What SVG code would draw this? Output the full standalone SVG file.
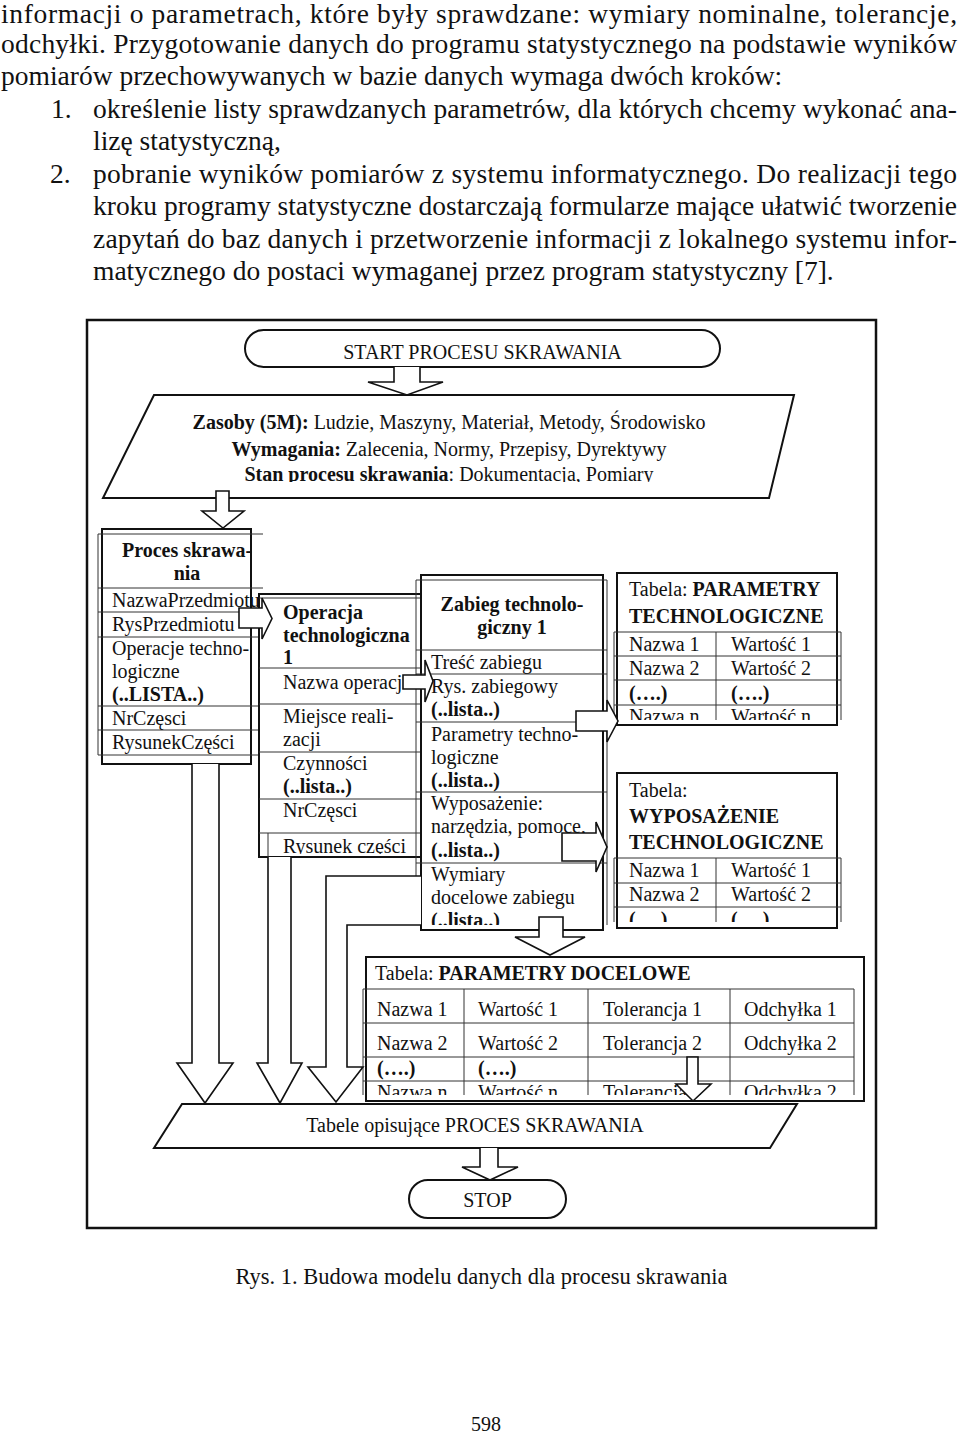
<svg xmlns="http://www.w3.org/2000/svg" width="960" height="1435" viewBox="0 0 960 1435">
<style>
text{font-family:"Liberation Serif","Times New Roman",serif;fill:#111}
.p{font-size:27.5px}
.d{font-size:20px}
.c{font-size:22.5px}
.b{font-weight:bold}
.m{text-anchor:middle}
.fr{fill:#fff;stroke:#111;stroke-width:2}
.tl{stroke:#333;stroke-width:1;fill:none}
.ar{fill:#fff;stroke:#111;stroke-width:1.6;stroke-linejoin:miter}
</style>
<defs>
<clipPath id="cPara"><rect x="100" y="400" width="700" height="82"/></clipPath>
<clipPath id="cOp"><rect x="259" y="833" width="160" height="21"/></clipPath>
<clipPath id="cZab"><rect x="416" y="863" width="191" height="62"/></clipPath>
<clipPath id="cPT"><rect x="614" y="705" width="227" height="15"/></clipPath>
<clipPath id="cWT"><rect x="614" y="907" width="227" height="15"/></clipPath>
<clipPath id="cPD"><rect x="363" y="1081" width="491" height="14"/></clipPath>
</defs>

<g id="paragraph" class="p">
<text x="1" y="23" textLength="956" lengthAdjust="spacing">informacji o parametrach, które były sprawdzane: wymiary nominalne, tolerancje,</text>
<text x="1" y="53" textLength="956" lengthAdjust="spacing">odchyłki. Przygotowanie danych do programu statystycznego na podstawie wyników</text>
<text x="1" y="85">pomiarów przechowywanych w bazie danych wymaga dwóch kroków:</text>
<text x="51" y="117.5">1.</text>
<text x="93" y="117.5" textLength="864" lengthAdjust="spacing">określenie listy sprawdzanych parametrów, dla których chcemy wykonać ana-</text>
<text x="93" y="150">lizę statystyczną,</text>
<text x="50" y="182.5">2.</text>
<text x="93" y="182.5" textLength="864" lengthAdjust="spacing">pobranie wyników pomiarów z systemu informatycznego. Do realizacji tego</text>
<text x="93" y="215" textLength="864" lengthAdjust="spacing">kroku programy statystyczne dostarczają formularze mające ułatwić tworzenie</text>
<text x="93" y="247.5" textLength="864" lengthAdjust="spacing">zapytań do baz danych i przetworzenie informacji z lokalnego systemu infor-</text>
<text x="93" y="280">matycznego do postaci wymaganej przez program statystyczny [7].</text>
</g>

<rect id="frame" x="87" y="320" width="789" height="908" fill="none" stroke="#111" stroke-width="2.5"/>

<g id="start">
<rect class="fr" x="245" y="330" width="475" height="37" rx="18.5"/>
<text class="d m" x="482.5" y="358.5">START PROCESU SKRAWANIA</text>
</g>

<g id="zasoby">
<path class="fr" d="M154 395H794L769 498H103Z"/>
<g clip-path="url(#cPara)">
<text class="d m" x="449" y="429"><tspan class="b">Zasoby (5M):</tspan> Ludzie, Maszyny, Materiał, Metody, Środowisko</text>
<text class="d m" x="449" y="456"><tspan class="b">Wymagania:</tspan> Zalecenia, Normy, Przepisy, Dyrektywy</text>
<text class="d m" x="449" y="481"><tspan class="b">Stan procesu skrawania</tspan>: Dokumentacja, Pomiary</text>
</g>
</g>

<g id="proces">
<rect class="fr" x="102" y="529" width="149" height="235"/>
<path class="tl" d="M98 534H263M98 588H263M98 612H263M98 637H263M98 706H263M98 730H263M98 755H263M98 534V755"/>
<text class="d b m" x="187" y="557">Proces skrawa-</text>
<text class="d b m" x="187" y="580">nia</text>
<text class="d" x="112" y="607">NazwaPrzedmiotu</text>
<text class="d" x="112" y="631">RysPrzedmiotu</text>
<text class="d" x="112" y="655">Operacje techno-</text>
<text class="d" x="112" y="678">logiczne</text>
<text class="d b" x="112" y="701">(..LISTA..)</text>
<text class="d" x="112" y="725">NrCzęsci</text>
<text class="d" x="112" y="749">RysunekCzęści</text>
</g>

<g id="operacja">
<rect class="fr" x="259" y="594" width="166" height="263"/>
<path class="tl" d="M259 598H421M259 668H421M259 704H421M259 752H421M259 799H421M259 833H421M268 833V857"/>
<text class="d b" x="283" y="619">Operacja</text>
<text class="d b" x="283" y="642">technologiczna</text>
<text class="d b" x="283" y="664">1</text>
<text class="d" x="283" y="689">Nazwa operacji</text>
<text class="d" x="283" y="723">Miejsce reali-</text>
<text class="d" x="283" y="746">zacji</text>
<text class="d" x="283" y="770">Czynności</text>
<text class="d b" x="283" y="793">(..lista..)</text>
<text class="d" x="283" y="817">NrCzęsci</text>
<text class="d" x="283" y="853" clip-path="url(#cOp)">Rysunek części</text>
</g>

<g id="zabieg">
<rect class="fr" x="421" y="575" width="182" height="355"/>
<path class="tl" d="M416 580H607M416 650H607M416 674H607M416 722H607M416 792H607M416 863H607M416 580V925M607 580V925"/>
<text class="d b m" x="512" y="611">Zabieg technolo-</text>
<text class="d b m" x="512" y="634">giczny 1</text>
<text class="d" x="431" y="669">Treść zabiegu</text>
<text class="d" x="431" y="693">Rys. zabiegowy</text>
<text class="d b" x="431" y="716">(..lista..)</text>
<text class="d" x="431" y="741">Parametry techno-</text>
<text class="d" x="431" y="764">logiczne</text>
<text class="d b" x="431" y="787">(..lista..)</text>
<text class="d" x="431" y="810">Wyposażenie:</text>
<text class="d" x="431" y="833">narzędzia, pomoce,</text>
<text class="d b" x="431" y="857">(..lista..)</text>
<text class="d" x="431" y="881">Wymiary</text>
<text class="d" x="431" y="904">docelowe zabiegu</text>
<text class="d b" x="431" y="927" clip-path="url(#cZab)">(..lista..)</text>
</g>

<g id="parametry-technologiczne">
<rect class="fr" x="617" y="573" width="220" height="152"/>
<path class="tl" d="M614 632H841M614 656H841M614 680H841M614 705H841M614 632V720M841 632V720M716 632V720"/>
<text class="d" x="629" y="596">Tabela: <tspan class="b">PARAMETRY</tspan></text>
<text class="d b" x="629" y="623">TECHNOLOGICZNE</text>
<text class="d" x="629" y="651">Nazwa 1</text><text class="d" x="731" y="651">Wartość 1</text>
<text class="d" x="629" y="675">Nazwa 2</text><text class="d" x="731" y="675">Wartość 2</text>
<text class="d b" x="629" y="700">(….)</text><text class="d b" x="731" y="700">(….)</text>
<g clip-path="url(#cPT)"><text class="d" x="629" y="723">Nazwa n</text><text class="d" x="731" y="723">Wartość n</text></g>
</g>

<g id="wyposazenie-technologiczne">
<rect class="fr" x="617" y="773" width="220" height="155"/>
<path class="tl" d="M614 858H841M614 883H841M614 907H841M614 858V922M841 858V922M716 858V922"/>
<text class="d" x="629" y="797">Tabela:</text>
<text class="d b" x="629" y="823">WYPOSAŻENIE</text>
<text class="d b" x="629" y="849">TECHNOLOGICZNE</text>
<text class="d" x="629" y="877">Nazwa 1</text><text class="d" x="731" y="877">Wartość 1</text>
<text class="d" x="629" y="901">Nazwa 2</text><text class="d" x="731" y="901">Wartość 2</text>
<g clip-path="url(#cWT)"><text class="d b" x="629" y="926">(….)</text><text class="d b" x="731" y="926">(….)</text></g>
</g>

<g id="parametry-docelowe">
<rect class="fr" x="366" y="957" width="498" height="144"/>
<path class="tl" d="M363 989H854M363 1023H854M363 1057H854M363 1081H854M363 989V1095M854 989V1095M464 989V1095M588 989V1095M730 989V1095"/>
<text class="d" x="375" y="980">Tabela: <tspan class="b">PARAMETRY DOCELOWE</tspan></text>
<text class="d" x="377" y="1016">Nazwa 1</text><text class="d" x="478" y="1016">Wartość 1</text><text class="d" x="603" y="1016">Tolerancja 1</text><text class="d" x="744" y="1016">Odchyłka 1</text>
<text class="d" x="377" y="1050">Nazwa 2</text><text class="d" x="478" y="1050">Wartość 2</text><text class="d" x="603" y="1050">Tolerancja 2</text><text class="d" x="744" y="1050">Odchyłka 2</text>
<text class="d b" x="377" y="1075">(….)</text><text class="d b" x="478" y="1075">(….)</text>
<g clip-path="url(#cPD)"><text class="d" x="377" y="1099">Nazwa n</text><text class="d" x="478" y="1099">Wartość n</text><text class="d" x="603" y="1099">Tolerancja n</text><text class="d" x="744" y="1099">Odchyłka 2</text></g>
</g>

<g id="tabele">
<path class="fr" d="M182 1104H797L770 1148H154Z"/>
<text class="d m" x="475" y="1132">Tabele opisujące PROCES SKRAWANIA</text>
</g>

<g id="stop">
<rect class="fr" x="409" y="1180" width="157" height="38" rx="19"/>
<text class="d m" x="487.5" y="1207">STOP</text>
</g>

<g id="connectors">
<path class="ar" d="M394 367V382H368L407 395L443 382H420V367"/>
<path class="ar" d="M216 491H229V511H244L223 528L202 511H216Z"/>
<path class="ar" d="M239 608H262V598L272 618.5L262 639V628H239Z"/>
<path class="ar" d="M403 675H425V660L433 681L425 702V689H403Z"/>
<path class="ar" d="M576 711H607V700L618 721L607 742V731H576Z"/>
<path class="ar" d="M562 833H596V822L607 847L596 872V861H562Z"/>
<path class="ar" d="M539 917H563V937H585L550 955L515 937H539Z"/>
<path class="ar" d="M192 764V1063H177L205 1103L233 1063H219V764"/>
<path class="ar" d="M268 857V1063H257L280 1103L302 1063H291V857"/>
<path class="ar" d="M421 876H326V1067H308L336 1102L363 1067H347V925H421"/>
<path class="ar" d="M687 1057H698V1084H711L693 1101L676 1084H687Z"/>
<path class="ar" d="M480 1148V1167H462L490 1180L518 1167H498V1148"/>
</g>

<text class="c m" x="481.5" y="1284">Rys. 1. Budowa modelu danych dla procesu skrawania</text>
<text class="d m" x="486" y="1431">598</text>
</svg>
